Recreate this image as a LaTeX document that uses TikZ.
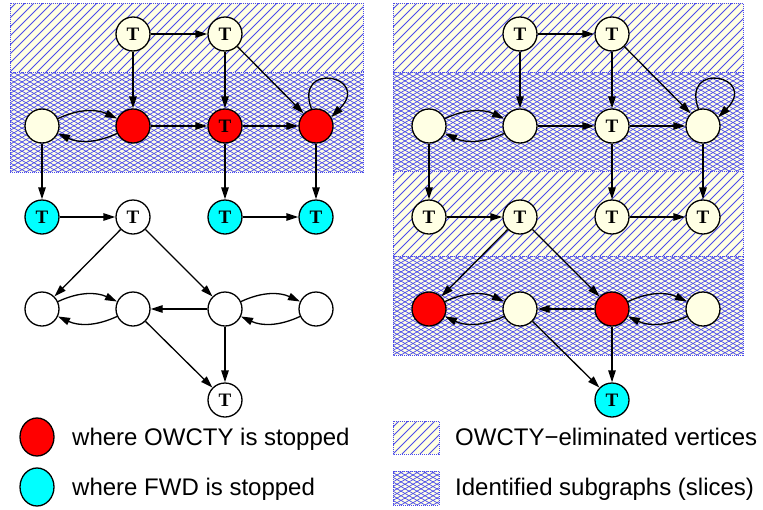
\documentclass[tikz,border=0pt]{standalone}
\usepackage{fontspec}
\newfontfamily\lsans{Liberation Sans}
\newfontfamily\lserif{Liberation Serif}
\usetikzlibrary{arrows.meta}
\definecolor{creamc}{RGB}{255,255,228}
\definecolor{hatchc}{RGB}{75,75,235}
\definecolor{redc}{RGB}{255,0,0}
\definecolor{cyanc}{RGB}{0,255,255}
\tikzset{
  vtx/.style={circle,draw=black,line width=1.3pt,minimum size=34pt,inner sep=0pt,
    font=\lserif\bfseries\fontsize{19}{19}\selectfont},
  cr/.style={vtx,fill=creamc},
  rd/.style={vtx,fill=redc},
  cy/.style={vtx,fill=cyanc},
  wh/.style={vtx,fill=white},
  arr/.style={line width=1.3pt,-{Triangle[length=12pt,width=7.5pt]}},
  hline/.style={hatchc,line width=1pt},
  xline/.style={hatchc,line width=0.7pt},
  regborder/.style={hatchc,densely dotted,line width=1pt},
  legtext/.style={font=\lsans\fontsize{24}{24}\selectfont,anchor=base west,inner sep=0pt},
}
% #1=x left, #2=y top, #3=x right, #4=y bottom (y up, so #2>#4)
\newcommand\myhatch[4]{%
  \fill[creamc] (#1,#2) rectangle (#3,#4);
  \begin{scope}
    \clip (#1,#2) rectangle (#3,#4);
    \pgfmathsetmacro\hh{#2-#4}
    \foreach \k in {-12,...,42} {\draw[hline] ({#1+9*\k},#4) -- ++(\hh,\hh);}
  \end{scope}
  \draw[regborder] (#1,#2) rectangle (#3,#4);
}
\newcommand\mycross[4]{%
  \fill[creamc] (#1,#2) rectangle (#3,#4);
  \begin{scope}
    \clip (#1,#2) rectangle (#3,#4);
    \pgfmathsetmacro\hh{#2-#4}
    \foreach \k in {-24,...,68} {
      \draw[xline] ({#1+8*\k},#4) -- ++({1.732*\hh},\hh);
      \draw[xline] ({#1+8*\k},#4) -- ++({-1.732*\hh},\hh);
    }
  \end{scope}
  \draw[regborder] (#1,#2) rectangle (#3,#4);
}
\begin{document}
\begin{tikzpicture}[x=1pt,y=1pt]
\useasboundingbox (0,0) rectangle (763,-509);
% regions
\myhatch{10}{-3}{363}{-72}
\mycross{10}{-72}{363}{-172}
\myhatch{393}{-3}{743}{-72}
\mycross{393}{-72}{743}{-171}
\myhatch{393}{-171}{743}{-256}
\mycross{393}{-256}{743}{-355}

% ---------- left graph ----------
\node[cr] (LT1) at (133,-34) {T};
\node[cr] (LT2) at (225,-34) {T};
\node[cr] (LA) at (42,-126) {};
\node[rd] (LB) at (133,-126) {};
\node[rd] (LC) at (225,-126) {T};
\node[rd] (LD) at (316,-126) {};
\node[cy] (LP) at (42,-217) {T};
\node[wh] (LQ) at (133,-217) {T};
\node[cy] (LR) at (225,-217) {T};
\node[cy] (LS) at (316,-217) {T};
\node[wh] (LE) at (42,-309) {};
\node[wh] (LF) at (133,-309) {};
\node[wh] (LG) at (225,-309) {};
\node[wh] (LH) at (316,-309) {};
\node[wh] (LZ) at (225,-400) {T};

\draw[arr] (LT1) -- (LT2);
\draw[arr] (LT1) -- (LB);
\draw[arr] (LT2) -- (LC);
\draw[arr] (LT2) -- (LD);
\draw[arr] (LD.105) .. controls +(110:52) and +(45:58) .. (LD.30);
\draw[arr] (LA) to[bend left=25] (LB);
\draw[arr] (LB) to[bend left=25] (LA);
\draw[arr] (LB) -- (LC);
\draw[arr] (LC) -- (LD);
\draw[arr] (LA) -- (LP);
\draw[arr] (LC) -- (LR);
\draw[arr] (LD) -- (LS);
\draw[arr] (LP) -- (LQ);
\draw[arr] (LR) -- (LS);
\draw[arr] (LQ) -- (LE);
\draw[arr] (LQ) -- (LG);
\draw[arr] (LE) to[bend left=25] (LF);
\draw[arr] (LF) to[bend left=25] (LE);
\draw[arr] (LG) -- (LF);
\draw[arr] (LG) to[bend left=25] (LH);
\draw[arr] (LH) to[bend left=25] (LG);
\draw[arr] (LF) -- (LZ);
\draw[arr] (LG) -- (LZ);

% ---------- right graph ----------
\node[cr] (RT1) at (520,-34) {T};
\node[cr] (RT2) at (612,-34) {T};
\node[cr] (RA) at (429,-126) {};
\node[cr] (RB) at (520,-126) {};
\node[cr] (RC) at (612,-126) {T};
\node[cr] (RD) at (703,-126) {};
\node[cr] (RP) at (429,-217) {T};
\node[cr] (RQ) at (520,-217) {T};
\node[cr] (RR) at (612,-217) {T};
\node[cr] (RS) at (703,-217) {T};
\node[rd] (RE) at (429,-309) {};
\node[cr] (RF) at (520,-309) {};
\node[rd] (RG) at (612,-309) {};
\node[cr] (RH) at (703,-309) {};
\node[cy] (RZ) at (612,-400) {T};

\draw[arr] (RT1) -- (RT2);
\draw[arr] (RT1) -- (RB);
\draw[arr] (RT2) -- (RC);
\draw[arr] (RT2) -- (RD);
\draw[arr] (RD.105) .. controls +(110:52) and +(45:58) .. (RD.30);
\draw[arr] (RA) to[bend left=25] (RB);
\draw[arr] (RB) to[bend left=25] (RA);
\draw[arr] (RB) -- (RC);
\draw[arr] (RC) -- (RD);
\draw[arr] (RA) -- (RP);
\draw[arr] (RC) -- (RR);
\draw[arr] (RD) -- (RS);
\draw[arr] (RP) -- (RQ);
\draw[arr] (RR) -- (RS);
\draw[arr] (RQ) -- (RE);
\draw[arr] (RQ) -- (RG);
\draw[arr] (RE) to[bend left=25] (RF);
\draw[arr] (RF) to[bend left=25] (RE);
\draw[arr] (RG) -- (RF);
\draw[arr] (RG) to[bend left=25] (RH);
\draw[arr] (RH) to[bend left=25] (RG);
\draw[arr] (RF) -- (RZ);
\draw[arr] (RG) -- (RZ);

% ---------- legend ----------
\draw[line width=1.3pt,fill=redc] (37,-437) ellipse [x radius=17, y radius=19];
\draw[line width=1.3pt,fill=cyanc] (37,-487) ellipse [x radius=17, y radius=19];
\node[legtext] (l1) at (72,-445) {where OWCTY is stopped};
\node[legtext] (l2) at (72,-495) {where FWD is stopped};
\myhatch{393}{-421}{439}{-454}
\mycross{393}{-471}{439}{-505}
\node[legtext] (l3) at (455,-445) {OWCTY−eliminated vertices};
\node[legtext] (l4) at (455,-495) {Identified subgraphs (slices)};
\end{tikzpicture}
\end{document}
